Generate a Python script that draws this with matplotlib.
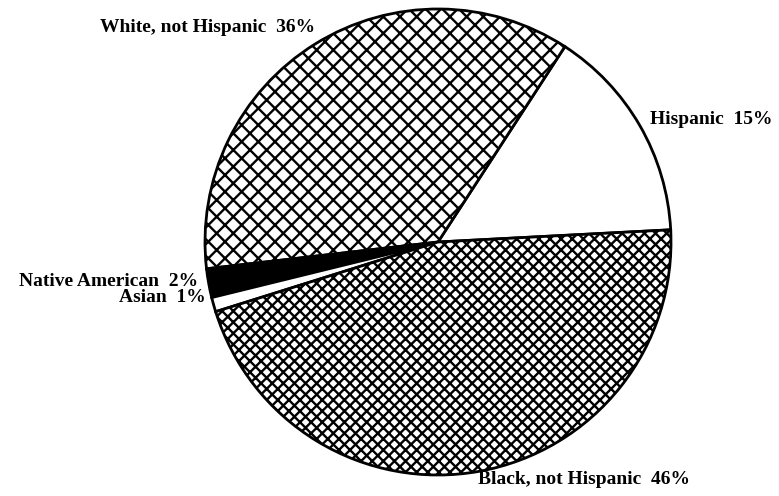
import matplotlib.pyplot as plt

# Slice data, counter-clockwise starting just above the 3 o'clock position
groups = ['Hispanic', 'White, not Hispanic', 'Native American', 'Asian', 'Black, not Hispanic']
shares = [15, 36, 2, 1, 46]
fills = ['white', 'white', 'black', 'white', 'white']
hatches = ['', 'xx', '', '', 'xxx']

plt.rcParams['hatch.linewidth'] = 1.7
plt.rcParams['font.family'] = ['Liberation Serif', 'DejaVu Serif']

fig = plt.figure(figsize=(7.79, 4.96), dpi=100)
ax = fig.add_axes([0, 0, 1, 1])

wedges, _ = ax.pie(shares, colors=fills, startangle=3, counterclock=True,
                   center=(438, 254), radius=233, frame=True,
                   wedgeprops=dict(edgecolor='black', linewidth=2))
for w, h in zip(wedges, hatches):
    w.set_hatch(h)

ax.set_xlim(0, 779)
ax.set_ylim(0, 496)
ax.set_aspect('equal')
ax.axis('off')

style = dict(fontsize=14, fontweight='bold', color='black', va='center')
ax.text(100, 468, 'White, not Hispanic  36%', ha='left', **style)
ax.text(650, 376, 'Hispanic  15%', ha='left', **style)
ax.text(198, 215, 'Native American  2%', ha='right', **style)
ax.text(206, 198, 'Asian  1%', ha='right', **style)
ax.text(478, 16, 'Black, not Hispanic  46%', ha='left', **style)

fig.savefig('out.png', dpi=100)
